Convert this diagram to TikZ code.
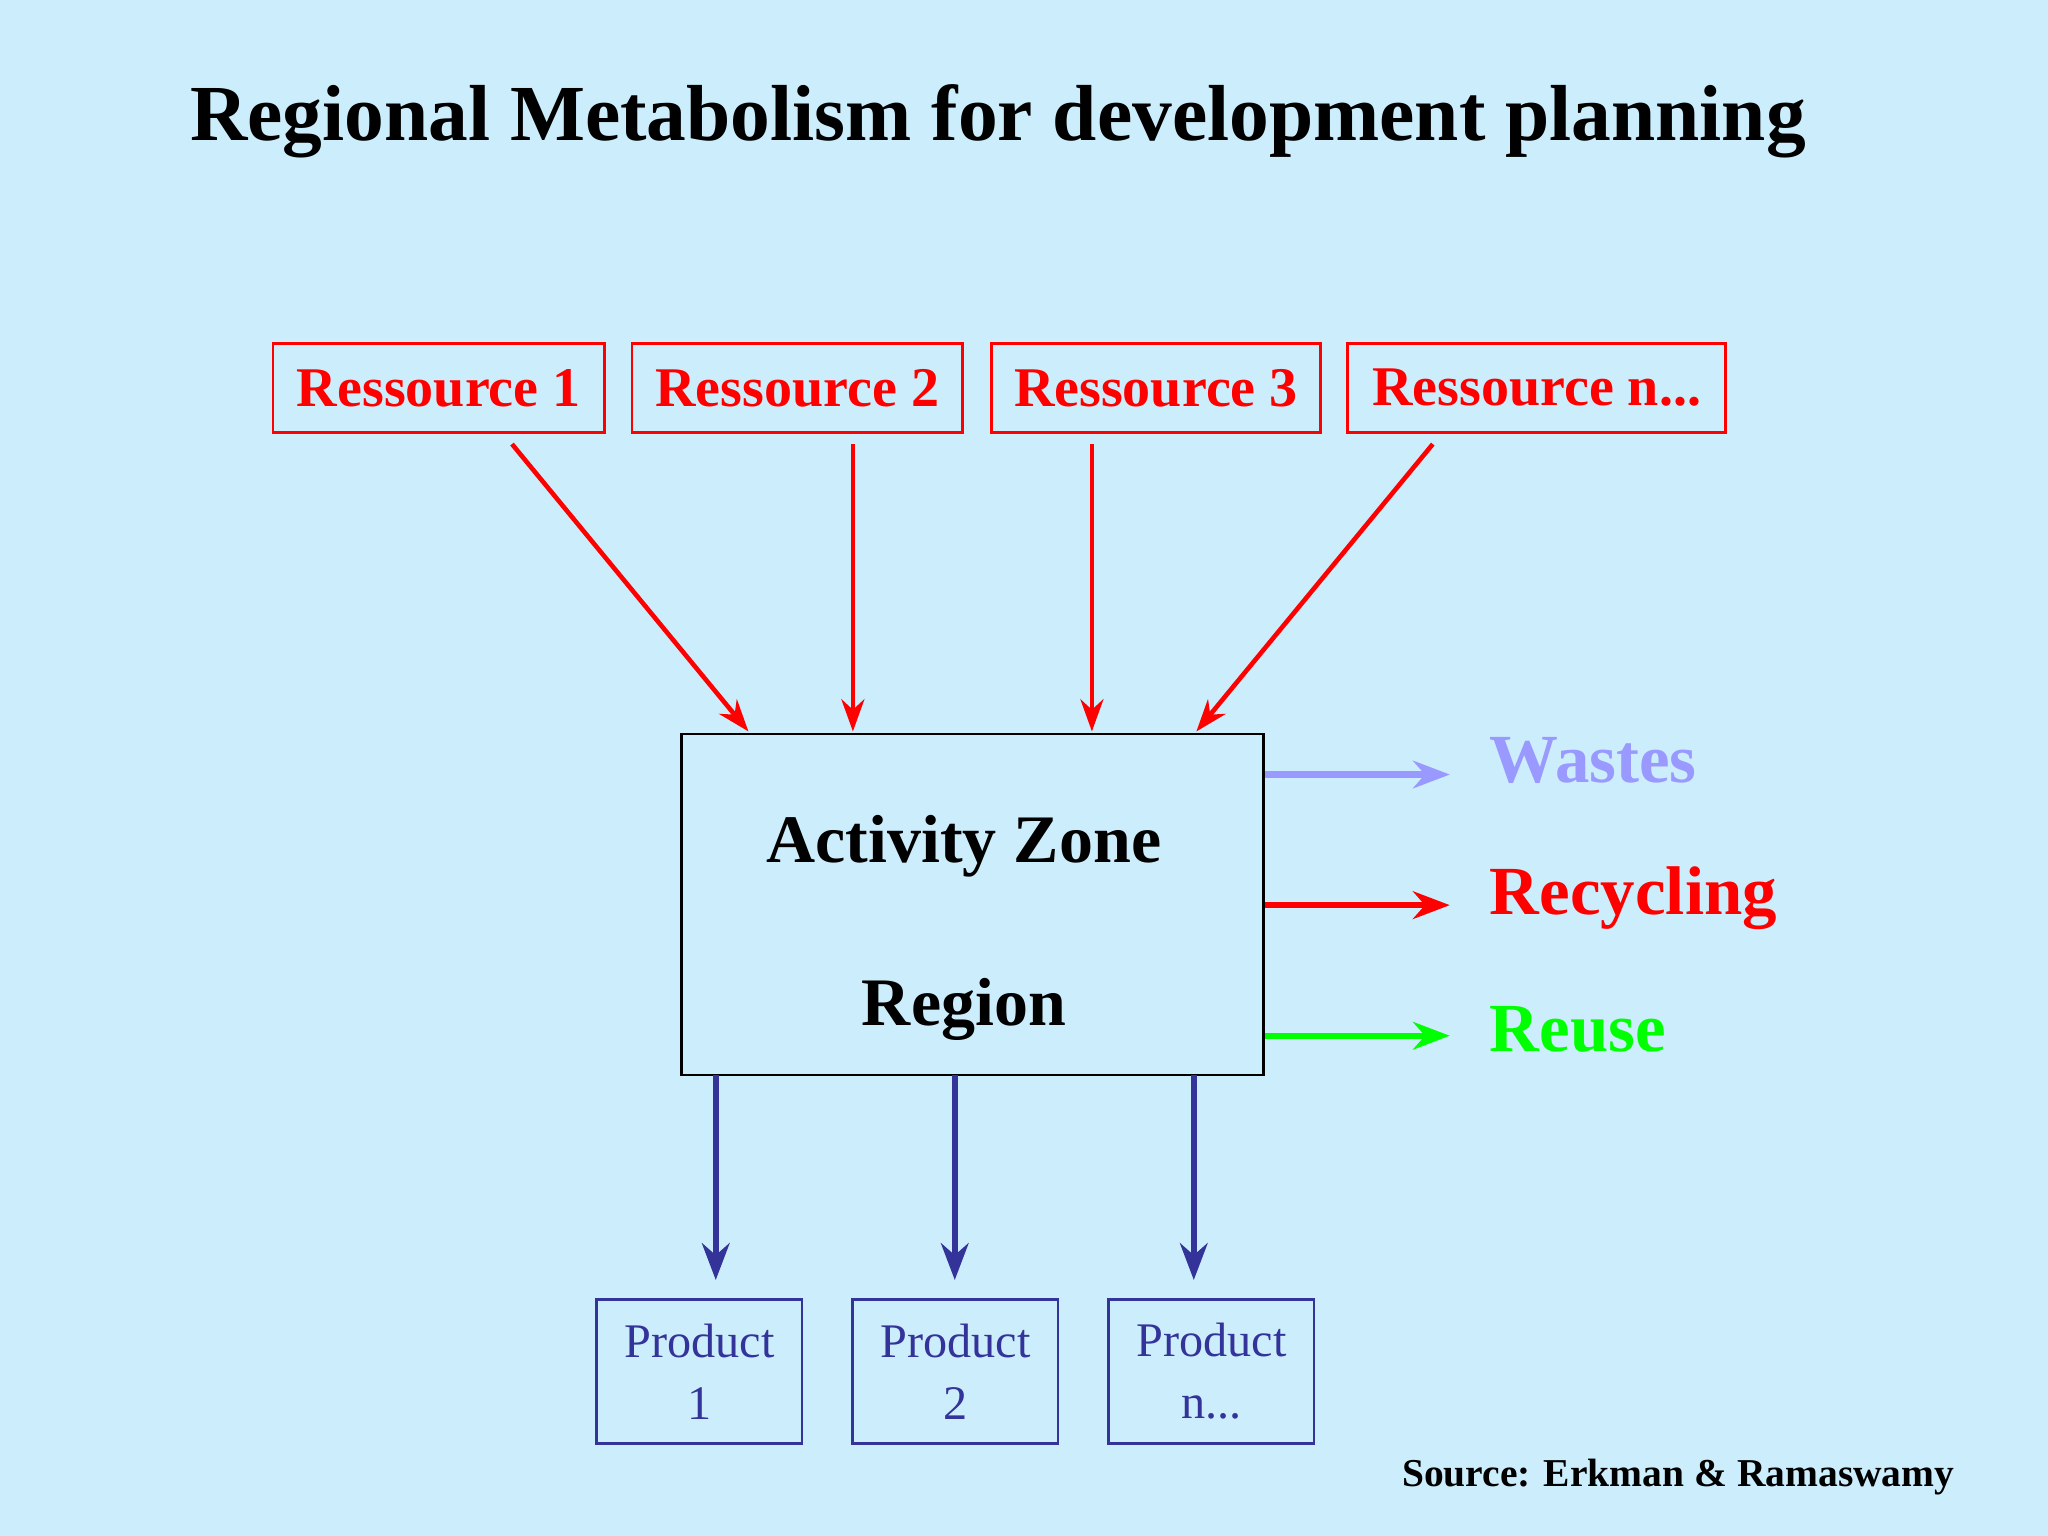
\documentclass[tikz,border=0pt]{standalone}
\usepackage{fontspec}
\setmainfont{Liberation Serif}
\usetikzlibrary{arrows.meta}
\definecolor{bg}{HTML}{CCEEFC}
\definecolor{navy}{HTML}{333399}
\definecolor{lav}{HTML}{9999FF}
\definecolor{grn}{HTML}{00FF00}
\tikzset{
 res/.style={draw=red,text=red,font=\fontsize{12.2}{14}\selectfont\bfseries,minimum height=0.68cm,inner sep=0pt,line width=0.6pt},
 prod/.style={draw=navy,text=navy,font=\fontsize{10.5}{13.5}\selectfont,minimum width=1.57cm,minimum height=1.1cm,align=center,inner sep=0pt,line width=0.6pt},
 rarr/.style={red,line width=1pt,-{Stealth[length=7pt,width=5pt]}},
 darr/.style={navy,line width=1.3pt,-{Stealth[length=8pt,width=6pt]}},
 sarr/.style={line width=1.4pt,-{Stealth[length=8pt,width=6pt]}},
 lab/.style={anchor=west,inner sep=0pt,font=\fontsize{15}{18}\selectfont\bfseries}
}
\begin{document}
\begin{tikzpicture}[x=0.01cm,y=-0.01cm]
\fill[bg] (0,0) rectangle (1568,1176);
\useasboundingbox (0,0) rectangle (1568,1176);
\node[font=\fontsize{17.3}{20}\selectfont\bfseries] (title) at (764,93) {Regional Metabolism for development planning};
\node[res,minimum width=2.54cm] (r1) at (336,297) {Ressource 1};
\node[res,minimum width=2.53cm] (r2) at (610.5,297) {Ressource 2};
\node[res,minimum width=2.52cm] (r3) at (885,297) {Ressource 3};
\node[res,minimum width=2.89cm] (rn) at (1176.5,297) {Ressource n...};
\node[draw=black,line width=0.6pt,minimum width=4.45cm,minimum height=2.61cm] (az) at (744.5,692.5) {};
\node[font=\fontsize{14.8}{18}\selectfont\bfseries] (t1) at (738,648) {Activity Zone};
\node[font=\fontsize{14.8}{18}\selectfont\bfseries] (t2) at (738,773) {Region};
\coordinate (a1) at (392,340); \coordinate (b1) at (573,560);
\coordinate (a2) at (653,340); \coordinate (b2) at (653,560);
\coordinate (a3) at (836,340); \coordinate (b3) at (836,560);
\coordinate (a4) at (1097,340); \coordinate (b4) at (916,560);
\draw[rarr] (a1) -- (b1);
\draw[rarr] (a2) -- (b2);
\draw[rarr] (a3) -- (b3);
\draw[rarr] (a4) -- (b4);
\node[lab,text=lav] (w) at (1140,582) {Wastes};
\node[lab,text=red] (rc) at (1140,688) {Recycling};
\node[lab,text=grn] (ru) at (1140,788) {Reuse};
\draw[sarr,lav] (az.east |- 0,593) -- (1110,593);
\draw[sarr,red] (az.east |- 0,693) -- (1110,693);
\draw[sarr,grn] (az.east |- 0,793) -- (1110,793);
\node[prod] (p1) at (535.5,1050) {Product\\1};
\node[prod] (p2) at (731.5,1050) {Product\\2};
\node[prod] (p3) at (927.5,1050) {Product\\n...};
\draw[darr] (548,823) -- (548,980);
\draw[darr] (731,823) -- (731,980);
\draw[darr] (914,823) -- (914,980);
\node[anchor=east,inner sep=0pt,font=\fontsize{8.6}{10}\selectfont\bfseries] (src) at (1497,1131) {Source: Erkman \& Ramaswamy};
\end{tikzpicture}
\end{document}
